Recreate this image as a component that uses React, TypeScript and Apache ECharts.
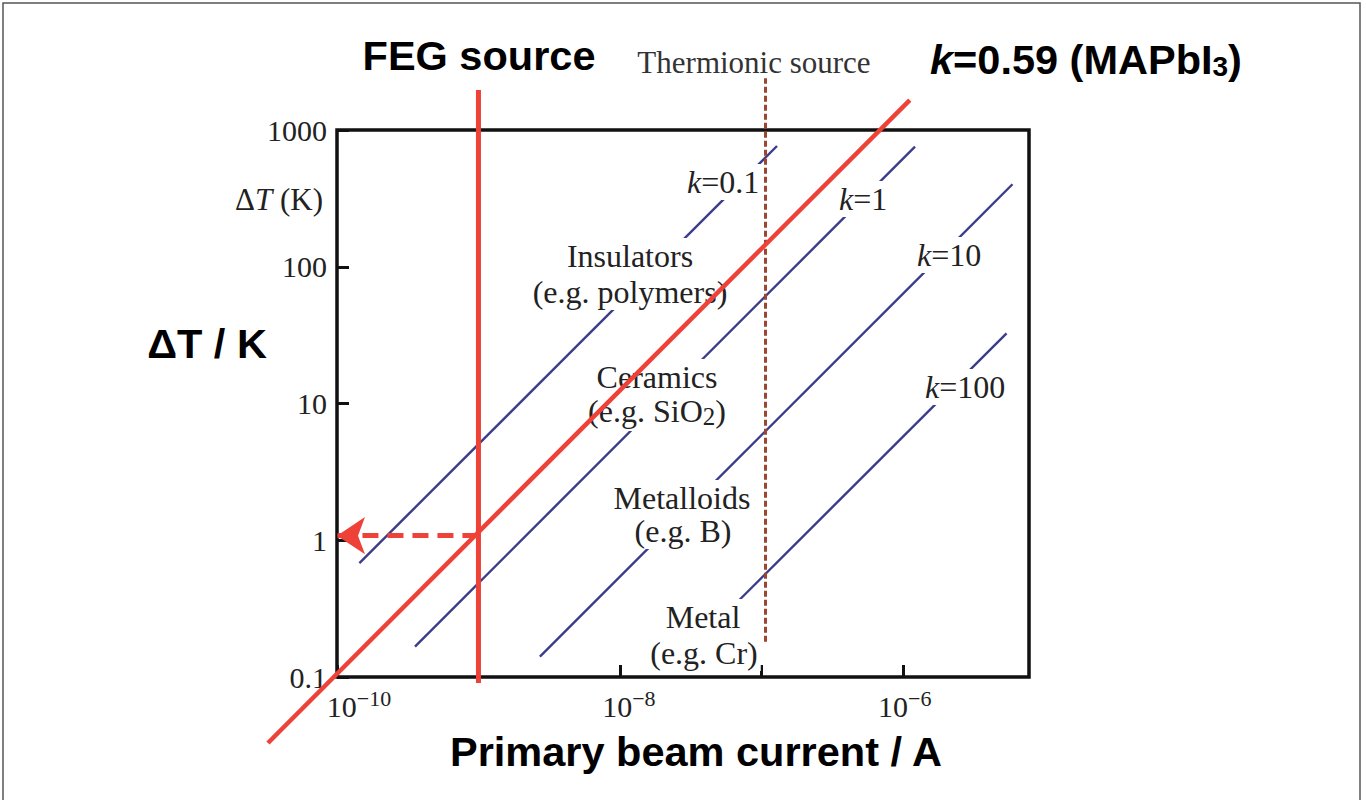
import React, { useEffect, useRef } from 'react';
import * as echarts from 'echarts';

// ---------- data (real units: current in A, temperature rise in K) ----------
const kNames = ['k=0.1', 'k=1', 'k=10', 'k=100'];
const kCurrentStart = [1.44e-10, 3.56e-10, 2.72e-9, 6.68e-8];
const kCurrentEnd = [1.29e-7, 1.22e-6, 5.96e-6, 5.41e-6];
const kDeltaTStart = [0.68, 0.167, 0.141, 0.349];
const kDeltaTEnd = [764, 755, 401, 32.6];

const mapbiCurrent = [3.25e-11, 1.12e-6];
const mapbiDeltaT = [0.0329, 1656];

const fegCurrent = 1e-9;
const fegDeltaT = [0.0903, 1960];
const fegReadCurrent = [1e-9, 1e-10];
const fegReadDeltaT = 1.08;

const thermionicCurrent = 1.07e-7;
const thermionicDeltaT = [0.181, 2390];

const xMin = 1e-10;
const xMax = 7.8e-6;
const yMin = 0.1;
const yMax = 1000;
const xLabelExponents = [-10, -8, -6];
const yTickLabels = ['0.1', '1', '10', '100', '1000'];

// ---------- styles ----------
const serif = '"Liberation Serif", "Times New Roman", Times, serif';
const sans = '"Liberation Sans", Arial, Helvetica, sans-serif';
const RED = '#ee4137';
const BLUE = '#3c3c8c';
const BROWN = '#9a4632';
const INK = '#222';

const L = Math.log10;

function serifTok(size: number, extra: any = {}) {
  return { fontSize: size, fontFamily: serif, fill: INK, color: INK, ...extra };
}

function label(x: number, y: number, text: string, rich: any, align = 'center', bg = true) {
  return {
    type: 'text',
    x,
    y,
    z: 5,
    silent: true,
    style: {
      text,
      rich,
      fill: INK,
      fontSize: 32,
      fontFamily: serif,
      align,
      verticalAlign: 'middle',
      textAlign: align,
      textVerticalAlign: 'middle',
      backgroundColor: bg ? '#fff' : undefined,
      padding: bg ? [2, 3, 2, 3] : 0,
    },
  };
}

function plain(x: number, y: number, text: string, size = 32, align = 'center') {
  return label(x, y, `{r|${text}}`, { r: serifTok(size) }, align, true);
}

function kLabel(x: number, y: number, text: string) {
  const rest = text.slice(1);
  return label(
    x,
    y,
    `{i|k}{r|${rest}}`,
    { i: serifTok(32, { fontStyle: 'italic' }), r: serifTok(32) },
    'left',
    true
  );
}

function boldText(x: number, y: number, text: string, align = 'center') {
  return {
    type: 'text',
    x,
    y,
    z: 5,
    silent: true,
    style: {
      text,
      fill: '#000',
      fontSize: 41.5,
      fontWeight: 'bold',
      fontFamily: sans,
      align,
      verticalAlign: 'middle',
      textAlign: align,
      textVerticalAlign: 'middle',
    },
  };
}

function buildOption() {
  const kSeries = kNames.map((n, i) => ({
    type: 'line',
    name: n,
    data: [
      [L(kCurrentStart[i]), L(kDeltaTStart[i])],
      [L(kCurrentEnd[i]), L(kDeltaTEnd[i])],
    ],
    symbol: 'none',
    showSymbol: false,
    silent: true,
    z: 2,
    lineStyle: { color: BLUE, width: 2.4 },
  }));

  const xPads: Record<string, string> = { '-10': 'pa', '-8': 'pb', '-6': 'pc' };

  const segment = (name: string, pts: number[][], color: string, width: number, z: number, dash?: number[]) => ({
    type: 'custom',
    name,
    coordinateSystem: 'cartesian2d',
    clip: false,
    silent: true,
    z,
    data: [[pts[0][0], pts[0][1], pts[1][0], pts[1][1]]],
    encode: { x: [0, 2], y: [1, 3] },
    renderItem: (_p: any, api: any) => {
      const a = api.coord([api.value(0), api.value(1)]);
      const b = api.coord([api.value(2), api.value(3)]);
      return {
        type: 'line',
        shape: { x1: a[0], y1: a[1], x2: b[0], y2: b[1] },
        style: { stroke: color, lineWidth: width, lineDash: dash || null, fill: null },
      };
    },
  });

  return {
    animation: false,
    backgroundColor: '#fff',
    grid: {
      left: 337,
      top: 130,
      width: 692,
      height: 547,
      show: true,
      borderColor: '#111',
      borderWidth: 3.5,
      backgroundColor: 'transparent',
    },
    xAxis: {
      type: 'value',
      min: L(xMin),
      max: L(xMax),
      interval: 1,
      axisLine: { show: false, onZero: false },
      splitLine: { show: false },
      axisTick: { show: true, inside: true, length: 12, lineStyle: { color: '#111', width: 3 } },
      axisLabel: {
        margin: 10,
        showMaxLabel: false,
        formatter: (v: number) => {
          const e = Math.round(v);
          if (Math.abs(v - e) > 1e-6 || xLabelExponents.indexOf(e) < 0) return '';
          return `{${xPads[String(e)]}| }{b|10}{s|\u2212${-e}}`;
        },
        rich: {
          pa: { width: 44, fontSize: 10 },
          pb: { width: 18, fontSize: 10 },
          pc: { width: 4, fontSize: 10 },
          b: { fontSize: 30, fontFamily: serif, color: INK, lineHeight: 34, verticalAlign: 'bottom' },
          s: { fontSize: 22, fontFamily: serif, color: INK, lineHeight: 22, verticalAlign: 'top' },
        },
      },
    },
    yAxis: {
      type: 'value',
      min: L(yMin),
      max: L(yMax),
      interval: 1,
      axisLine: { show: false, onZero: false },
      splitLine: { show: false },
      axisTick: { show: true, inside: true, length: 12, lineStyle: { color: '#111', width: 3 } },
      axisLabel: {
        margin: 10,
        showMinLabel: true,
        showMaxLabel: true,
        color: INK,
        fontSize: 30,
        fontFamily: serif,
        formatter: (v: number) => yTickLabels[Math.round(v) + 1] ?? '',
      },
    },
    series: [
      ...kSeries,
      segment(
        'Thermionic source',
        thermionicDeltaT.map((t) => [L(thermionicCurrent), L(t)]),
        BROWN,
        3,
        8,
        [6, 3]
      ),
      segment(
        'FEG source trace',
        fegDeltaT.map((t) => [L(fegCurrent) + 0.009, L(t)]),
        '#8a3a30',
        1,
        9,
        [4, 3]
      ),
      segment('FEG source', fegDeltaT.map((t) => [L(fegCurrent), L(t)]), RED, 5, 10),
      segment(
        'k=0.59 (MAPbI3)',
        mapbiCurrent.map((c, i) => [L(c), L(mapbiDeltaT[i])]),
        RED,
        4.5,
        10
      ),
      {
        type: 'lines',
        coordinateSystem: 'cartesian2d',
        silent: true,
        z: 11,
        symbol: ['none', 'arrow'],
        symbolSize: 28,
        lineStyle: { color: RED, width: 5, type: [16, 9], opacity: 1 },
        data: [
          {
            coords: [
              [L(fegReadCurrent[0]), L(fegReadDeltaT)],
              [L(fegReadCurrent[1]), L(fegReadDeltaT)],
            ],
          },
        ],
      },
    ],
    graphic: [
      {
        type: 'rect',
        z: 0,
        silent: true,
        shape: { x: 3, y: 3, width: 1357, height: 830 },
        style: { fill: 'none', stroke: '#555', lineWidth: 1.5 },
      },
      boldText(479, 55, 'FEG source'),
      boldText(207, 343, '\u0394T / K'),
      boldText(696, 751, 'Primary beam current / A'),
      {
        type: 'text',
        x: 930,
        y: 59,
        z: 5,
        silent: true,
        style: {
          text: '{k|k}{b|=0.59 (MAPbI}{s|3}{b|)}',
          align: 'left',
          verticalAlign: 'middle',
          textAlign: 'left',
          textVerticalAlign: 'middle',
          rich: {
            k: { fontSize: 41.5, fontFamily: sans, fontWeight: 'bold', fontStyle: 'italic', fill: '#000', lineHeight: 42, verticalAlign: 'middle' },
            b: { fontSize: 41.5, fontFamily: sans, fontWeight: 'bold', fill: '#000', lineHeight: 42, verticalAlign: 'middle' },
            s: { fontSize: 28, fontFamily: sans, fontWeight: 'bold', fill: '#000', lineHeight: 28, verticalAlign: 'bottom' },
          },
        },
      },
      {
        type: 'text',
        x: 754,
        y: 62,
        z: 5,
        silent: true,
        style: {
          text: 'Thermionic source',
          fill: '#333',
          fontSize: 31,
          fontFamily: serif,
          align: 'center',
          verticalAlign: 'middle',
          textAlign: 'center',
          textVerticalAlign: 'middle',
        },
      },
      label(
        323,
        199,
        '{r|\u0394}{i|T}{r| (K)}',
        { r: serifTok(31), i: serifTok(31, { fontStyle: 'italic' }) },
        'right',
        false
      ),
      kLabel(684, 182, kNames[0]),
      kLabel(836, 199, kNames[1]),
      kLabel(914, 255, kNames[2]),
      kLabel(922, 387, kNames[3]),
      plain(630, 256, 'Insulators'),
      plain(630, 292, '(e.g. polymers)'),
      plain(657, 377, 'Ceramics'),
      label(
        657,
        411,
        '{r|(e.g. SiO}{s|2}{r|)}',
        {
          r: serifTok(32, { lineHeight: 36, verticalAlign: 'middle' }),
          s: serifTok(25, { lineHeight: 25, verticalAlign: 'bottom' }),
        },
        'center',
        true
      ),
      plain(682, 498, 'Metalloids'),
      plain(683, 531, '(e.g. B)'),
      plain(703, 617, 'Metal'),
      plain(704, 653, '(e.g. Cr)'),
    ],
  };
}

export default function App() {
  const ref = useRef<HTMLDivElement>(null);
  useEffect(() => {
    if (!ref.current) return;
    const chart = echarts.init(ref.current, null, { renderer: 'svg' });
    chart.setOption(buildOption() as any);
    return () => chart.dispose();
  }, []);
  return (
    <div
      ref={ref}
      style={{ position: 'absolute', left: 0, top: 0, width: 1366, height: 800, background: '#fff' }}
    />
  );
}
